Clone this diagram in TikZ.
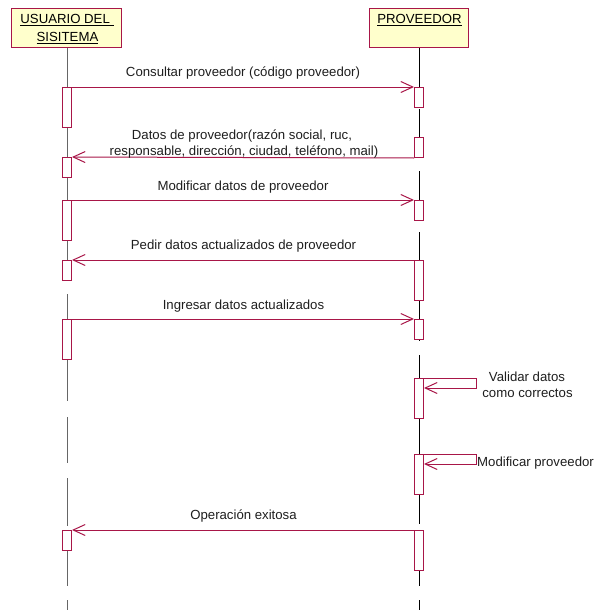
\documentclass[tikz,border=0pt]{standalone}
\usepackage{fontspec}
\setmainfont{Liberation Sans}
\usetikzlibrary{arrows.meta}
\definecolor{umlred}{RGB}{168,22,72}
\definecolor{headfill}{RGB}{255,255,204}
\definecolor{msgtext}{RGB}{30,30,30}
\begin{document}
\begin{tikzpicture}[x=1pt,y=-1pt,
  head/.style={draw=umlred, fill=headfill, line width=1pt, inner sep=0pt, anchor=north west},
  act/.style={draw=umlred, fill=white, line width=1pt, minimum width=9pt, inner sep=0pt, anchor=north},
  shortact/.style={act, minimum height=20pt},
  longact/.style={act, minimum height=40pt},
  msg/.style={draw=umlred, line width=1pt, -{Straight Barb[length=12pt,width=11pt]}},
  lifeu/.style={draw=black!60, line width=0.9pt},
  lifep/.style={draw=black, line width=0.9pt},
  lbl/.style={font=\fontsize{13.2}{15.5}\selectfont, text=msgtext, inner sep=0pt, anchor=base},
  headtxt/.style={font=\fontsize{13.2}{15.5}\selectfont, text=black, inner sep=0pt, anchor=base},
]
\useasboundingbox (0,0) rectangle (594,610);

% lifelines (dashed by gaps between execution occurrences)
\foreach \a/\b in {47/87,127/157,177/200,240/260,294/319,359/401,417/463,478/526,550/586,600/610}
  \draw[lifeu] (67,\a) -- (67,\b);
\foreach \a/\b in {47/87,109/137,171/200,232/260,300/319,339/341,355/378,418/454,494/524,570/586,600/610}
  \draw[lifep] (419,\a) -- (419,\b);

% object headers
\node[head, minimum width=110pt, minimum height=39pt] (u) at (11,8) {};
\node[head, minimum width=99pt, minimum height=39pt] (p) at (369,8) {};
\node[headtxt] (ut1) at (67,24) {\underline{USUARIO DEL\ }};
\node[headtxt] (ut2) at (67.5,41.3) {\underline{SISITEMA}};
\node[headtxt] (pt) at (419.5,24) {\underline{PROVEEDOR}};

% execution occurrences of the user
\node[longact]  (ua1) at (67,87) {};
\node[shortact] (ua2) at (67,157) {};
\node[longact]  (ua3) at (67,200) {};
\node[shortact] (ua4) at (67,260) {};
\node[longact]  (ua5) at (67,319) {};
\node[shortact] (ua6) at (67,530) {};

% execution occurrences of the supplier
\node[shortact] (pa1) at (419,87) {};
\node[shortact] (pa2) at (419,137) {};
\node[shortact] (pa3) at (419,200) {};
\node[longact]  (pa4) at (419,260) {};
\node[shortact] (pa5) at (419,319) {};
\node[longact]  (pa6) at (419,378) {};
\node[longact]  (pa7) at (419,454) {};
\node[longact]  (pa8) at (419,530) {};

% messages
\draw[msg] (ua1.north east) -- (pa1.north west);
\node[lbl] (m1) at (243,77) {Consultar proveedor (código proveedor)};

\draw[msg] (pa2.south west) -- (ua2.north east);
\node[lbl] (m2a) at (242,139.5) {Datos de proveedor(razón social, ruc,};
\node[lbl] (m2b) at (244,155) {responsable, dirección, ciudad, teléfono, mail)};

\draw[msg] (ua3.north east) -- (pa3.north west);
\node[lbl] (m3) at (243,190) {Modificar datos de proveedor};

\draw[msg] (pa4.north west) -- (ua4.north east);
\node[lbl] (m4) at (243.5,249.5) {Pedir datos actualizados de proveedor};

\draw[msg] (ua5.north east) -- (pa5.north west);
\node[lbl] (m5) at (243.5,309) {Ingresar datos actualizados};

\draw[msg] (pa6.north east) -- ++(52,0) -- ++(0,10) -- ++(-52,0);
\node[lbl] (m6a) at (527,381.5) {Validar datos};
\node[lbl] (m6b) at (527.5,397.5) {como correctos};

\draw[msg] (pa7.north east) -- ++(52,0) -- ++(0,10) -- ++(-52,0);
\node[lbl, anchor=base west] (m7) at (477,466.7) {Modificar proveedor};

\draw[msg] (pa8.north west) -- (ua6.north east);
\node[lbl] (m8) at (243.5,519.5) {Operación exitosa};
\end{tikzpicture}
\end{document}
